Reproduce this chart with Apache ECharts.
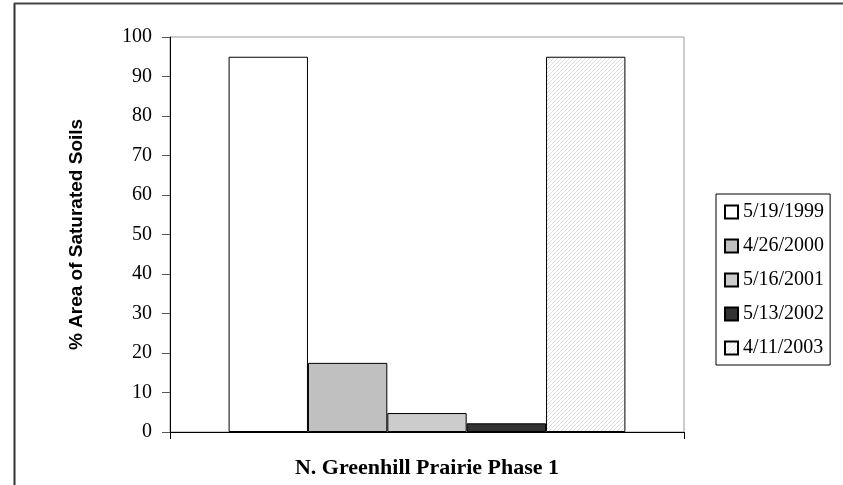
<!DOCTYPE html>
<html><head><meta charset="utf-8">
<script src="https://cdn.jsdelivr.net/npm/echarts@6/dist/echarts.min.js"></script>
<style>html,body{margin:0;padding:0;background:#fff}#c{width:843px;height:485px}</style>
</head><body><div id="c"></div>
<script>
const categories = ['N. Greenhill Prairie Phase 1'];
const seriesNames = ['5/19/1999', '4/26/2000', '5/16/2001', '5/13/2002', '4/11/2003'];
const seriesValues = [[95], [17.5], [4.8], [2.2], [95]];
const yTicks = [0, 10, 20, 30, 40, 50, 60, 70, 80, 90, 100];

function makePattern() {
  const c = document.createElement('canvas');
  c.width = 4; c.height = 4;
  const ctx = c.getContext('2d');
  ctx.fillStyle = '#ffffff'; ctx.fillRect(0, 0, 4, 4);
  ctx.fillStyle = '#dedede';
  for (let k = 0; k < 4; k++) ctx.fillRect(k, 3 - k, 1, 1);
  return { image: c, repeat: 'repeat' };
}
const fills = ['#ffffff', '#c0c0c0', '#cccccc', '#333333', makePattern()];

const chart = echarts.init(document.getElementById('c'), null, { renderer: 'canvas' });
chart.setOption({
  animation: false,
  backgroundColor: '#ffffff',
  graphic: [
    { type: 'line', shape: { x1: 14.5, y1: 3, x2: 14.5, y2: 485 }, style: { stroke: '#333', lineWidth: 2 } },
    { type: 'line', shape: { x1: 14, y1: 3.5, x2: 843, y2: 3.5 }, style: { stroke: '#444', lineWidth: 2 } }
  ],
  grid: { left: 170, top: 37, right: 159, bottom: 53, show: true, borderColor: '#999', borderWidth: 1, backgroundColor: '#fff' },
  legend: {
    orient: 'vertical', left: 716, top: 194,
    padding: [8, 6, 7, 8], itemGap: 14, itemWidth: 13, itemHeight: 13, itemTextGap: 8,
    borderColor: '#000', borderWidth: 1,
    icon: 'rect',
    textStyle: { fontFamily: 'Liberation Serif', fontSize: 20, color: '#000' },
    data: seriesNames
  },
  xAxis: {
    type: 'category', data: categories,
    axisLine: { lineStyle: { color: '#000', width: 1 } },
    axisTick: { show: true, length: 7, lineStyle: { color: '#000' } },
    axisLabel: { show: false },
    name: categories[0], nameLocation: 'middle', nameGap: 25,
    nameTextStyle: { fontFamily: 'Liberation Serif', fontWeight: 'bold', fontSize: 22, color: '#000' }
  },
  yAxis: {
    type: 'value', min: yTicks[0], max: yTicks[yTicks.length - 1], interval: 10,
    splitLine: { show: false },
    axisLine: { show: true, lineStyle: { color: '#000', width: 1 } },
    axisTick: { show: true, length: 8, lineStyle: { color: '#555' } },
    axisLabel: { fontFamily: 'Liberation Serif', fontSize: 20, color: '#000', margin: 18 },
    name: '% Area of Saturated Soils', nameLocation: 'middle', nameRotate: 90, nameGap: 84,
    nameTextStyle: { fontFamily: 'Liberation Sans', fontWeight: 'bold', fontSize: 19, color: '#000' }
  },
  series: seriesNames.map((n, i) => ({
    name: n, type: 'bar', data: seriesValues[i],
    barGap: '0%', barCategoryGap: '22.8%',
    itemStyle: { color: fills[i], borderColor: '#000', borderWidth: 1 }
  }))
});
</script></body></html>
